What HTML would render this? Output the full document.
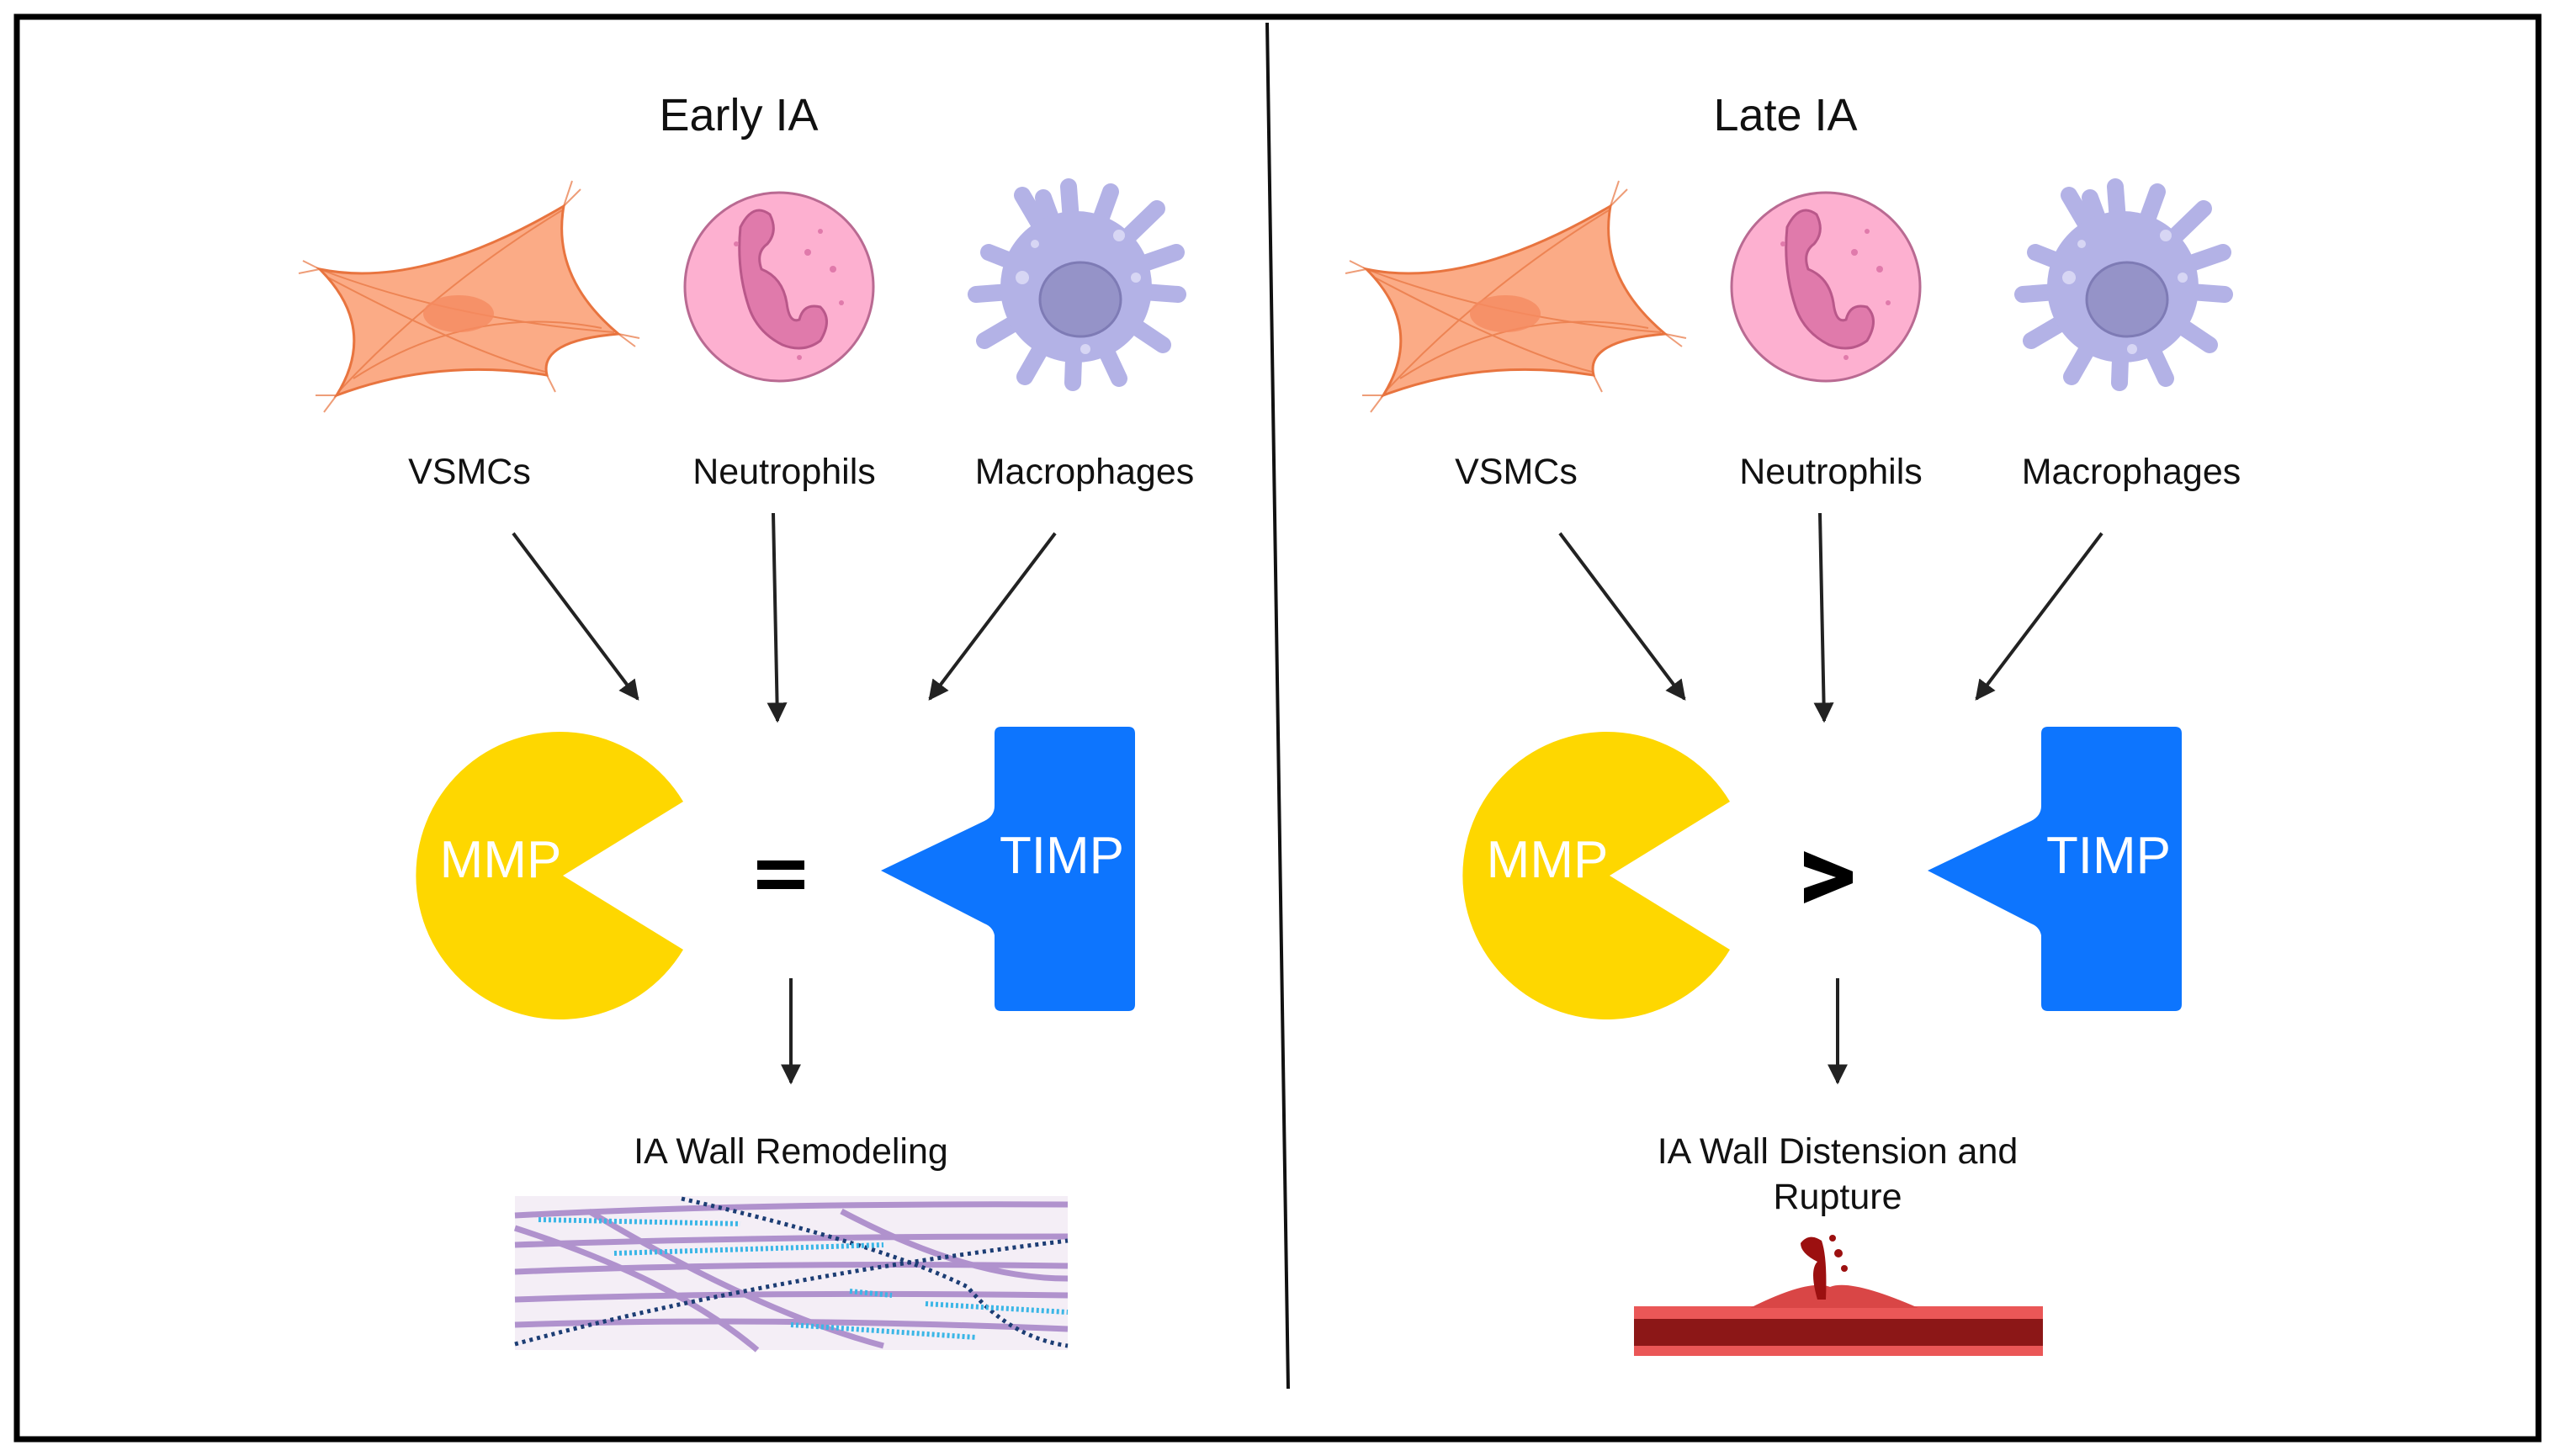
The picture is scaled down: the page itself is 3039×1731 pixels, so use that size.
<!DOCTYPE html>
<html><head><meta charset="utf-8"><style>
html,body{margin:0;padding:0;background:#fff}
svg{display:block}
text{font-family:"Liberation Sans",sans-serif}
</style></head><body>
<svg width="3039" height="1731" viewBox="0 0 3039 1731" xmlns="http://www.w3.org/2000/svg">
<defs>
<marker id="ah" viewBox="0 0 10 10" refX="9" refY="5" markerWidth="6" markerHeight="6" orient="auto-start-reverse" markerUnits="strokeWidth">
<path d="M0,0 L10,5 L0,10 Z" fill="#222"/></marker>
<g id="vsmc">
<path d="M380,320 Q500,345 670,245 Q655,330 735,397 Q640,405 650,446 Q520,425 400,470 Q450,390 380,320 Z" fill="#fbab86" stroke="#e8743f" stroke-width="3"/>
<g stroke="#e8743f" stroke-width="2" fill="none" opacity="0.7">
<path d="M385,322 Q540,380 730,395"/><path d="M403,465 Q520,340 668,250"/><path d="M390,330 Q560,420 648,442"/><path d="M420,450 Q560,360 715,390"/>
<path d="M380,320 l-20,-10 M380,320 l-25,5 M670,245 l10,-30 M670,245 l20,-20 M735,397 l25,5 M735,397 l20,15 M400,470 l-15,20 M400,470 l-25,0 M650,446 l10,20"/>
</g>
<ellipse cx="545" cy="373" rx="42" ry="22" fill="#f58b60" opacity="0.8"/>
</g>
<g id="neut">
<circle cx="926" cy="341" r="112" fill="#fdb0d0" stroke="#b96a92" stroke-width="3"/>
<path d="M880,270 Q895,240 915,255 Q925,275 912,290 Q898,300 905,320 Q930,330 935,360 Q938,385 950,380 Q955,360 975,365 Q990,380 975,405 Q955,420 930,410 Q900,395 890,365 Q875,320 880,270 Z" fill="#e07aab" stroke="#b9588a" stroke-width="3"/>
<g fill="#e07aab"><circle cx="960" cy="300" r="4"/><circle cx="990" cy="320" r="4"/><circle cx="875" cy="290" r="3"/><circle cx="1000" cy="360" r="3"/><circle cx="950" cy="425" r="3"/><circle cx="975" cy="275" r="3"/></g>
</g>
<g id="macro">
<g stroke="#b3b2e6" stroke-width="20" stroke-linecap="round">
<path d="M1279,341 L1215,232 M1279,341 L1270,222 M1279,341 L1320,228 M1279,341 L1375,248 M1279,341 L1398,300 M1279,341 L1400,350 M1279,341 L1382,410 M1279,341 L1330,450 M1279,341 L1275,455 M1279,341 L1218,448 M1279,341 L1170,405 M1279,341 L1160,350 M1279,341 L1175,300 M1279,341 L1240,235"/>
</g>
<circle cx="1279" cy="341" r="90" fill="#b3b2e6"/>
<ellipse cx="1284" cy="356" rx="48" ry="44" fill="#9593c8" stroke="#7e7bb5" stroke-width="3"/>
<g fill="#d7d6f4"><circle cx="1330" cy="280" r="7"/><circle cx="1215" cy="330" r="8"/><circle cx="1350" cy="330" r="6"/><circle cx="1230" cy="290" r="5"/><circle cx="1290" cy="415" r="6"/></g>
</g>
<g id="mmp">
<path d="M812,953 A171,171 0 1 0 812,1129 L669,1041 Z" fill="#fed700"/>
</g>
<g id="timp">
<path d="M1190,864 H1341 Q1349,864 1349,872 V1194 Q1349,1202 1341,1202 H1190 Q1182,1202 1182,1194 V1112 Q1180,1102 1170,1098 L1047,1035 L1170,976 Q1182,970 1182,958 V872 Q1182,864 1190,864 Z" fill="#0d75fe"/>
</g>
</defs>

<rect x="20" y="20" width="2997" height="1691" fill="none" stroke="#000" stroke-width="7"/>
<line x1="1506" y1="27" x2="1531" y2="1651" stroke="#111" stroke-width="4"/>

<text x="878" y="155" font-size="54" text-anchor="middle" fill="#111">Early IA</text>
<use href="#vsmc"/><use href="#neut"/><use href="#macro"/>
<g font-size="43" text-anchor="middle" fill="#111">
<text x="558" y="575">VSMCs</text><text x="932" y="575">Neutrophils</text><text x="1289" y="575">Macrophages</text>
</g>
<g stroke="#222" stroke-width="4" marker-end="url(#ah)">
<line x1="610" y1="634" x2="758" y2="831"/>
<line x1="919" y1="610" x2="924" y2="857"/>
<line x1="1254" y1="634" x2="1105" y2="831"/>
<line x1="940" y1="1163" x2="940" y2="1287"/>
</g>
<use href="#mmp"/><use href="#timp"/>
<text x="595" y="1043" font-size="62" text-anchor="middle" fill="#fff">MMP</text>
<text x="1262" y="1038" font-size="62" text-anchor="middle" fill="#fff">TIMP</text>
<rect x="900" y="1023" width="56" height="11" fill="#000"/><rect x="900" y="1046" width="56" height="11" fill="#000"/>
<text x="940" y="1383" font-size="43" text-anchor="middle" fill="#111">IA Wall Remodeling</text>
<g>
<rect x="612" y="1422" width="657" height="183" fill="#f4eef6"/>
<g fill="none" stroke="#a07cc4" stroke-width="7" opacity="0.8">
<path d="M612,1445 Q900,1430 1269,1432"/><path d="M612,1480 Q900,1470 1269,1470"/><path d="M612,1512 Q900,1500 1269,1505"/>
<path d="M612,1545 Q900,1535 1269,1540"/><path d="M612,1575 Q900,1565 1269,1580"/><path d="M612,1460 Q800,1520 900,1605"/>
<path d="M700,1440 Q900,1560 1050,1600"/><path d="M1000,1440 Q1150,1520 1269,1520"/>
</g>
<g fill="none" stroke="#1c3d74" stroke-width="5" stroke-dasharray="4 5">
<path d="M612,1598 Q900,1520 1269,1475"/><path d="M810,1425 Q1050,1480 1150,1530 Q1200,1590 1269,1600"/>
</g>
<g fill="none" stroke="#3bb6e6" stroke-width="6" stroke-dasharray="3 3">
<path d="M640,1450 L880,1455"/><path d="M730,1490 L1050,1480"/><path d="M1100,1550 L1269,1560"/><path d="M940,1575 L1160,1590"/><path d="M1010,1535 L1060,1540"/>
</g>
</g>

<text x="2122" y="155" font-size="54" text-anchor="middle" fill="#111">Late IA</text>
<g transform="translate(1244,0)"><use href="#vsmc"/><use href="#neut"/><use href="#macro"/><use href="#mmp"/><use href="#timp"/></g>
<g font-size="43" text-anchor="middle" fill="#111">
<text x="1802" y="575">VSMCs</text><text x="2176" y="575">Neutrophils</text><text x="2533" y="575">Macrophages</text>
</g>
<g stroke="#222" stroke-width="4" marker-end="url(#ah)">
<line x1="1854" y1="634" x2="2002" y2="831"/>
<line x1="2163" y1="610" x2="2168" y2="857"/>
<line x1="2498" y1="634" x2="2349" y2="831"/>
<line x1="2184" y1="1163" x2="2184" y2="1287"/>
</g>
<text x="1839" y="1043" font-size="62" text-anchor="middle" fill="#fff">MMP</text>
<text x="2506" y="1038" font-size="62" text-anchor="middle" fill="#fff">TIMP</text>
<path d="M2144,1012 L2202,1036 L2202,1050 L2144,1074 L2144,1056 L2182,1043 L2144,1030 Z" fill="#000"/>
<text x="2184" y="1383" font-size="43" text-anchor="middle" fill="#111">IA Wall Distension and</text>
<text x="2184" y="1437" font-size="43" text-anchor="middle" fill="#111">Rupture</text>
<g>
<rect x="1942" y="1553" width="486" height="59" fill="#ea5757"/>
<rect x="1942" y="1568" width="486" height="32" fill="#8c1717"/>
<path d="M2080,1555 Q2150,1520 2175,1530 Q2200,1520 2280,1555 Z" fill="#d94646"/>
<path d="M2160,1545 Q2150,1510 2160,1500 Q2140,1490 2140,1478 Q2150,1465 2165,1475 Q2172,1495 2170,1545 Z" fill="#9c1010"/>
<circle cx="2185" cy="1490" r="5" fill="#9c1010"/><circle cx="2178" cy="1472" r="4" fill="#9c1010"/><circle cx="2192" cy="1508" r="4" fill="#9c1010"/>
</g>
</svg>
</body></html>
